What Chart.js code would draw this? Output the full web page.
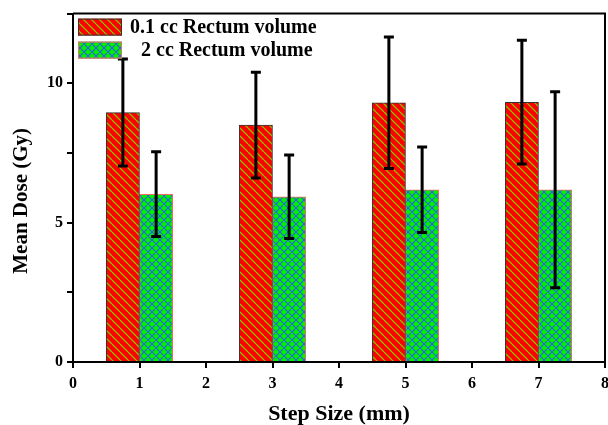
<!DOCTYPE html>
<html>
<head>
<meta charset="utf-8">
<script src="https://cdn.jsdelivr.net/npm/chart.js@4.4.1/dist/chart.umd.min.js"></script>
<style>
body{margin:0;background:#fff;}
#wrap{width:608px;height:425px;position:relative;}
</style>
</head>
<body>
<div id="wrap"><canvas id="myChart"></canvas></div>
<script>
// data
const stepSizes = [1, 3, 5, 7];
const dose01 = [8.95, 8.5, 9.3, 9.32];
const sd01 = [1.92, 1.9, 2.36, 2.22];
const dose2 = [6.02, 5.93, 6.18, 6.18];
const sd2 = [1.52, 1.5, 1.53, 3.52];
const seriesLabels = ["0.1 cc Rectum volume", "2 cc Rectum volume"];
const yTitle = "Mean Dose (Gy)";
const xTitle = "Step Size (mm)";

const FONT = "'Liberation Serif', 'Times New Roman', serif";

function makePattern(bg, line, size, width, cross){
    const c = document.createElement("canvas");
    c.width = size; c.height = size;
    const g = c.getContext("2d");
    g.fillStyle = bg;
    g.fillRect(0, 0, size, size);
    g.strokeStyle = line;
    g.lineWidth = width;
    g.beginPath();
    for(let k = -1; k <= 1; k++){
        g.moveTo(k*size, 0); g.lineTo(k*size + size, size);
        if(cross){ g.moveTo(k*size + size, 0); g.lineTo(k*size, size); }
    }
    g.stroke();
    return g.createPattern(c, "repeat");
}

const redFill = makePattern("#ff0000", "#88c000", 8, 1.3, false);
const greenFill = makePattern("#00f000", "#2c5cf0", 8, 1.1, true);

const fills = [redFill, greenFill];
const borders = ["#333333", "#ff6666"];
const errors = [sd01, sd2];

function toPoints(vals){
    return stepSizes.map((s, i) => ({x: s, y: vals[i]}));
}

//error bars + frame + legend + y title
const extras = {
    id: "extras",
    afterDatasetsDraw(chart){
        const ctx = chart.ctx;
        const y = chart.scales.y;
        ctx.save();
        ctx.strokeStyle = "#000";
        ctx.lineWidth = 3;
        errors.forEach((sd, di) => {
            const meta = chart.getDatasetMeta(di);
            meta.data.forEach((bar, i) => {
                const v = chart.data.datasets[di].data[i].y;
                const top = y.getPixelForValue(v + sd[i]);
                const bot = y.getPixelForValue(v - sd[i]);
                ctx.beginPath();
                ctx.moveTo(bar.x, top); ctx.lineTo(bar.x, bot);
                ctx.moveTo(bar.x - 5, top); ctx.lineTo(bar.x + 5, top);
                ctx.moveTo(bar.x - 5, bot); ctx.lineTo(bar.x + 5, bot);
                ctx.stroke();
            });
        });
        ctx.restore();
    },
    afterDraw(chart){
        const ctx = chart.ctx;
        const a = chart.chartArea;
        ctx.save();
        ctx.strokeStyle = "#000";
        ctx.lineWidth = 2;
        ctx.beginPath();
        ctx.moveTo(a.left, a.top); ctx.lineTo(a.right, a.top); ctx.lineTo(a.right, a.bottom);
        ctx.stroke();

        // legend
        ctx.font = "bold 20px " + FONT;
        ctx.textBaseline = "middle";
        seriesLabels.forEach((lab, i) => {
            const bx = a.left + 5, by = a.top + 5 + i*23;
            ctx.fillStyle = fills[i];
            ctx.fillRect(bx, by, 44, 17);
            ctx.strokeStyle = borders[i];
            ctx.lineWidth = 1;
            ctx.strokeRect(bx + 0.5, by + 0.5, 43, 16);
            ctx.fillStyle = "#000";
            ctx.fillText(lab, bx + (i === 0 ? 52 : 63), by + 9);
        });

        // y title, a bit below the centre like the original
        ctx.translate(22, (a.top + a.bottom) / 2 + 13);
        ctx.rotate(-Math.PI / 2);
        ctx.font = "bold 21px " + FONT;
        ctx.textAlign = "center";
        ctx.fillText(yTitle, 0, 0);
        ctx.restore();
    }
};

const ctx = document.getElementById("myChart");

const myChart = new Chart(ctx, {
    type: "bar",
    data: {
        datasets: [0, 1].map(i => ({
            label: seriesLabels[i],
            data: toPoints(i === 0 ? dose01 : dose2),
            backgroundColor: fills[i],
            borderColor: borders[i],
            borderWidth: 1,
            categoryPercentage: 1,
            barPercentage: 1
        }))
    },
    options: {
        responsive: true,
        maintainAspectRatio: false,
        animation: false,
        layout: {padding: {top: 12, right: 3, left: 0, bottom: 0}},
        plugins: {legend: {display: false}, tooltip: {enabled: false}},
        scales: {
            x: {
                type: "linear",
                min: 0, max: 8,
                offset: false,
                afterFit: s => { s.height = 63; s.paddingRight = 0; s.paddingLeft = 0; },
                ticks: {stepSize: 1, padding: 6, color: "#000", font: {family: FONT, size: 16, weight: "bold"}},
                grid: {drawOnChartArea: false, offset: false, color: "#000", lineWidth: 2, tickLength: 6},
                border: {color: "#000", width: 2},
                title: {display: true, text: xTitle, color: "#000", padding: {top: 0, bottom: -3},
                    font: {family: FONT, size: 22, weight: "bold"}}
            },
            y: {
                min: 0, max: 12.5,
                afterFit: s => { s.width = 73; },
                ticks: {stepSize: 2.5, padding: 4, color: "#000",
                    font: {family: FONT, size: 16, weight: "bold"},
                    callback: v => (v % 5 === 0 ? v : "")},
                grid: {drawOnChartArea: false, color: "#000", lineWidth: 2, tickLength: 6},
                border: {color: "#000", width: 2}
            }
        }
    },
    plugins: [extras]
});
</script>
</body>
</html>
